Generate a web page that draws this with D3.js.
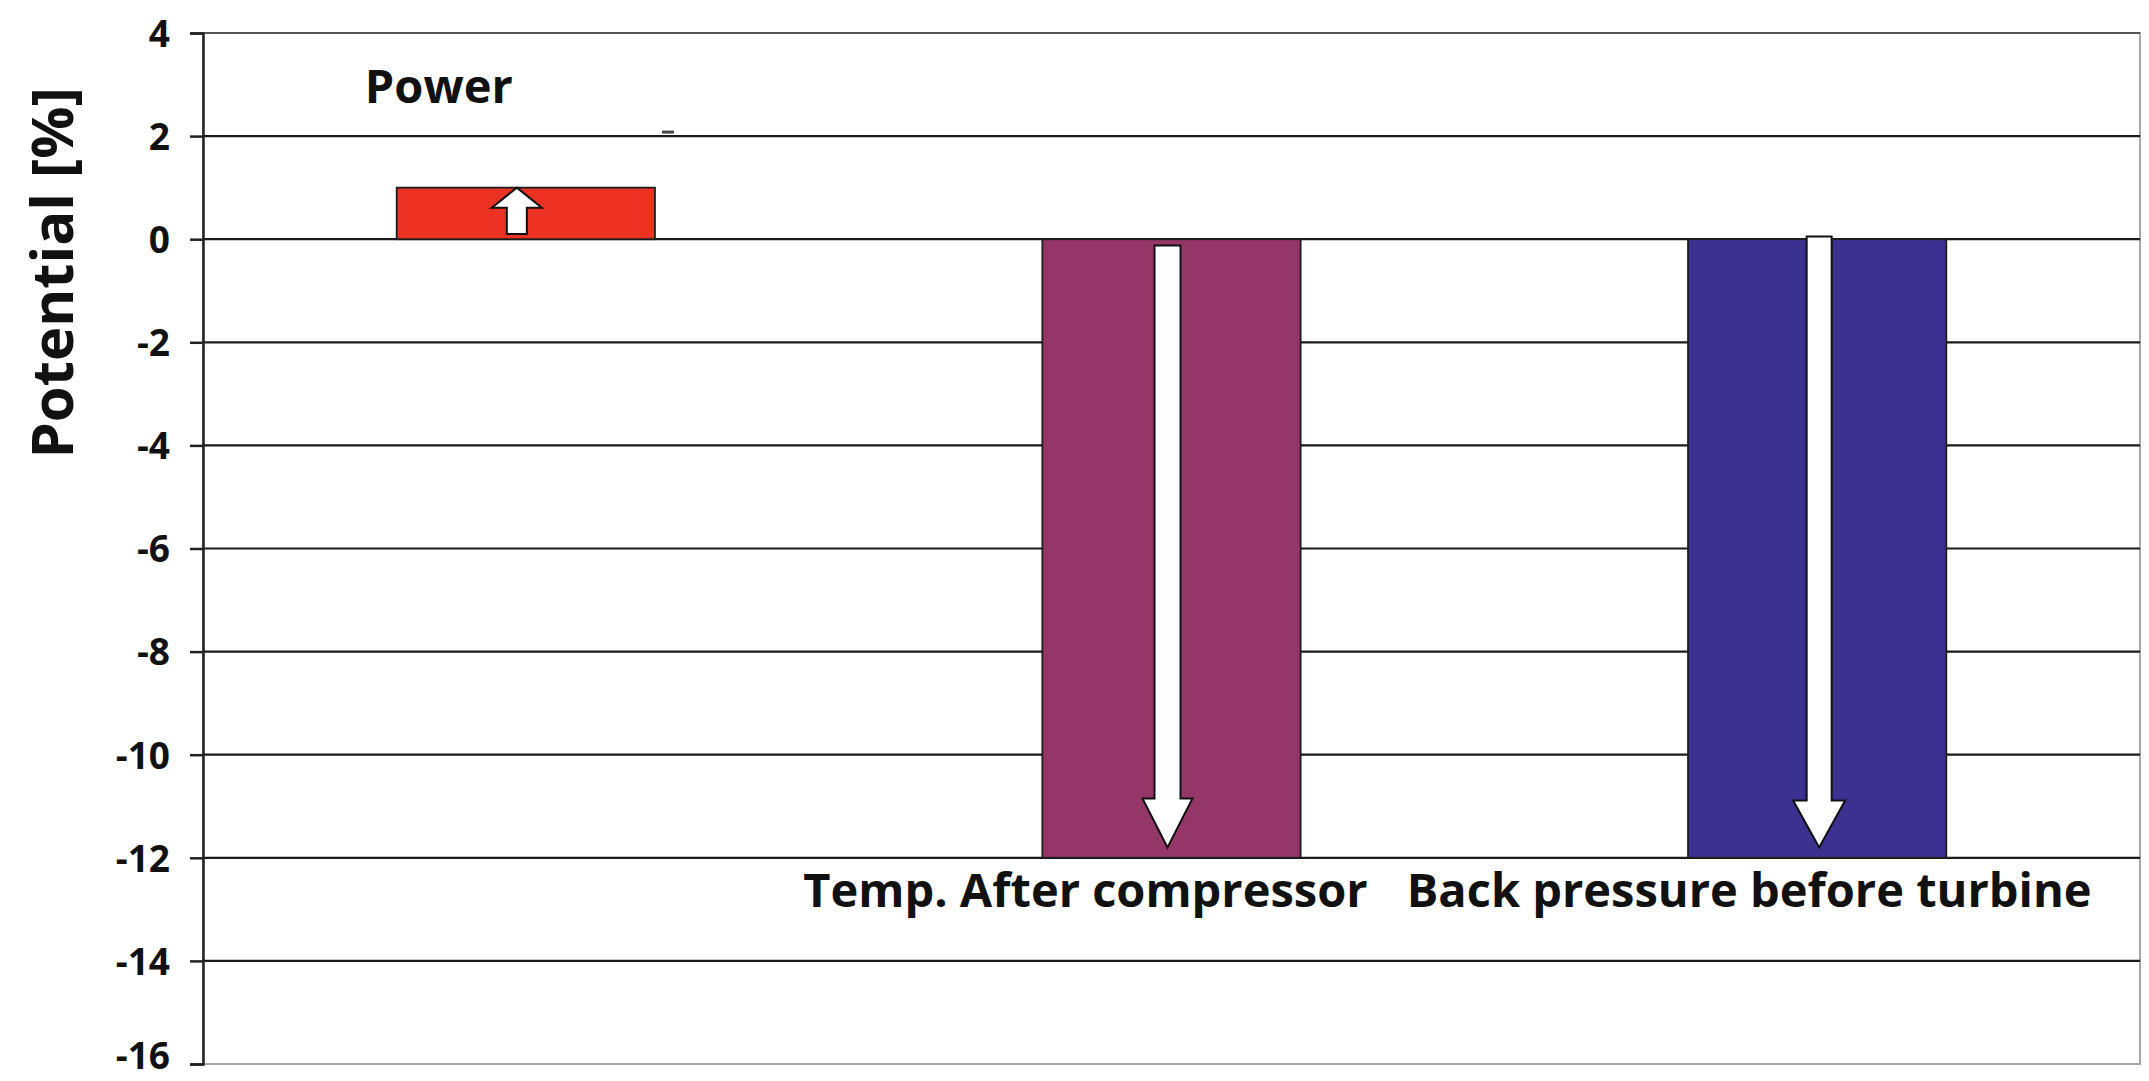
<!DOCTYPE html>
<html><head><meta charset="utf-8">
<script src="https://cdn.jsdelivr.net/npm/d3@7"></script>
<style>html,body{margin:0;padding:0;background:#fff;} svg{display:block}</style>
</head><body>
<svg id="chart" width="2149" height="1081"></svg>
<script>
// ---- data ----
const categories = ["Power", "Temp. After compressor", "Back pressure before turbine"];
const values = [1.0, -12.0, -12.0];
const barColors = ["#EC3323", "#943667", "#3C3190"];
const yTicks = [4, 2, 0, -2, -4, -6, -8, -10, -12, -14, -16];
const arrowFrom = [0.1, -0.12, 0.05];
const arrowTo = [1.0, -11.8, -11.8];
const yTitle = "Potential [%]";

// ---- layout ----
const FONT = "'Open Sans', 'Noto Sans', sans-serif";
const svg = d3.select("#chart");
const x = d3.scaleBand().domain(categories).range([203, 2140]).paddingInner(0.6).paddingOuter(0.3);
const y = d3.scaleLinear().domain([-16, 4]).range([1064, 33]);
const bw = x.bandwidth();

// plot border
svg.append("rect").attr("x", x.range()[0]).attr("y", y(4))
  .attr("width", x.range()[1] - x.range()[0]).attr("height", y(-16) - y(4))
  .attr("fill", "none").attr("stroke", "#a8a8a8").attr("stroke-width", 2);
// top line a bit darker
svg.append("line").attr("x1", x.range()[0]).attr("x2", x.range()[1])
  .attr("y1", y(4)).attr("y2", y(4)).attr("stroke", "#555").attr("stroke-width", 2);

// gridlines
svg.append("g").selectAll("line").data(yTicks.filter(t => t > -16 && t < 4)).join("line")
  .attr("x1", x.range()[0]).attr("x2", x.range()[1])
  .attr("y1", d => y(d)).attr("y2", d => y(d))
  .attr("stroke", "#1a1a1a").attr("stroke-width", 2.2);

// y axis
const yAxis = d3.axisLeft(y).tickValues(yTicks).tickSize(13).tickPadding(20).tickFormat(d3.format("d"));
const gy = svg.append("g").attr("transform", `translate(${x.range()[0]},0)`).call(yAxis);
gy.select(".domain").attr("stroke", "#222").attr("stroke-width", 2.5);
gy.selectAll(".tick line").attr("stroke", "#222").attr("stroke-width", 2.5);
gy.selectAll(".tick text").attr("font-family", FONT).attr("font-weight", 700)
  .attr("font-size", 37).attr("fill", "#111")
  .attr("dy", d => d === -16 ? "0.12em" : "0.36em")
  .text(d => d < 0 ? "-" + Math.abs(d) : d);

// bars
svg.append("g").selectAll("rect").data(categories).join("rect")
  .attr("x", d => x(d))
  .attr("y", (d, i) => y(Math.max(0, values[i])))
  .attr("width", bw)
  .attr("height", (d, i) => Math.abs(y(values[i]) - y(0)))
  .attr("fill", (d, i) => barColors[i])
  .attr("stroke", "#1d1d1d").attr("stroke-width", 1.8);

// arrows
const arrowDims = [{sw: 10, hw: 25, hl: 20}, {sw: 13, hw: 25, hl: 49}, {sw: 12.5, hw: 26, hl: 47}];
function arrowPath(cx, yFrom, yTo, sw, hw, hl) {
  const dir = yTo < yFrom ? -1 : 1; // -1 upward
  const base = yTo - dir * hl;
  return `M${cx - sw},${yFrom} L${cx - sw},${base} L${cx - hw},${base} L${cx},${yTo} L${cx + hw},${base} L${cx + sw},${base} L${cx + sw},${yFrom} Z`;
}
const arrowDx = [-9, -4, 2];
svg.append("g").selectAll("path").data(categories).join("path")
  .attr("d", (d, i) => arrowPath(x(d) + bw / 2 + arrowDx[i], y(arrowFrom[i]), y(arrowTo[i]),
        arrowDims[i].sw, arrowDims[i].hw, arrowDims[i].hl))
  .attr("fill", "#fff").attr("stroke", "#111").attr("stroke-width", 2).attr("stroke-linejoin", "miter");

// small dash artifact on the 2 gridline
svg.append("line").attr("x1", x(categories[0]) + bw + 7).attr("x2", x(categories[0]) + bw + 19)
  .attr("y1", y(2) - 4).attr("y2", y(2) - 4).attr("stroke", "#444").attr("stroke-width", 3);

// category labels
const labelPos = [
  {dx: -87, y: y(4) + 70},
  {dx: -86, y: y(-12) + 49},
  {dx: -68, y: y(-12) + 49}
];
svg.append("g").selectAll("text").data(categories).join("text")
  .attr("x", (d, i) => x(d) + bw / 2 + labelPos[i].dx)
  .attr("y", (d, i) => labelPos[i].y)
  .attr("text-anchor", "middle")
  .attr("font-family", FONT).attr("font-weight", 700).attr("font-size", 47)
  .attr("fill", "#111").text(d => d);

// y title
svg.append("text")
  .attr("transform", `translate(73,273) rotate(-90)`)
  .attr("text-anchor", "middle")
  .attr("font-family", FONT).attr("font-weight", 700).attr("font-size", 58)
  .attr("fill", "#111").text(yTitle);
</script>
</body></html>
